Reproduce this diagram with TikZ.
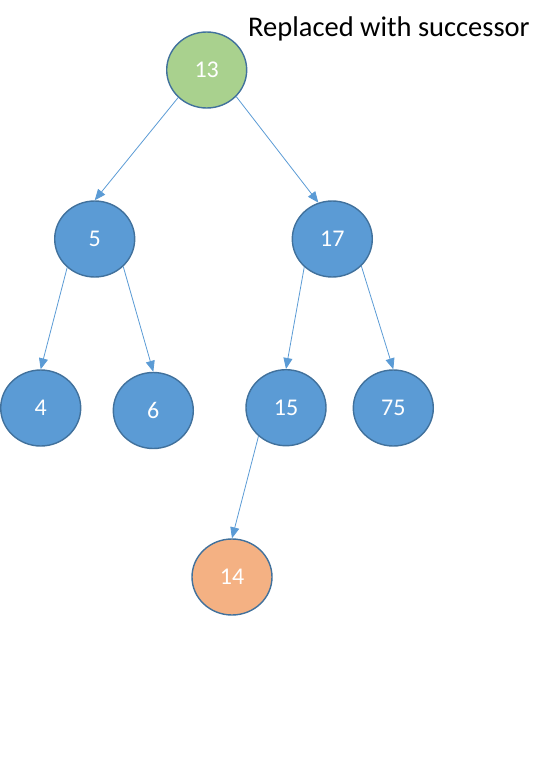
\documentclass[tikz,border=0pt]{standalone}
\usepackage{fontspec}
\setmainfont{Carlito}
\usetikzlibrary{shapes.geometric}
\usetikzlibrary{arrows.meta}

\begin{document}
\begin{tikzpicture}[x=1pt,y=-1pt,
  key/.style={ellipse, draw=keyline, line width=1.4pt, fill=keyblue,
    minimum width=80pt, minimum height=76pt, inner sep=0pt,
    text=white, font=\fontsize{24}{28}\selectfont},
  link/.style={draw=keyblue, line width=0.8pt,
    -{Triangle[length=11pt,width=9pt]}}]
  \definecolor{keyblue}{HTML}{5B9BD5}
  \definecolor{keyline}{HTML}{41719C}
  \definecolor{keygreen}{HTML}{A9D18E}
  \definecolor{keyorange}{HTML}{F4B183}
  \useasboundingbox (0,0) rectangle (558,784);
  \node[key, fill=keygreen] (k13) at (206.7,70) {13};
  \node[key] (k5) at (94.7,239) {5};
  \node[key] (k17) at (332.3,239) {17};
  \node[key] (k4) at (40.7,408) {4};
  \node[key] (k6) at (153.3,410.5) {6};
  \node[key] (k15) at (286,407.7) {15};
  \node[key] (k75) at (393.3,408) {75};
  \node[key, fill=keyorange] (k14) at (232,577) {14};
  \node[anchor=base west, inner sep=0pt, font=\fontsize{28.5}{32}\selectfont]
    (note) at (248,36.5) {Replaced with successor};
  \draw[link] (k13.224) -- (k5.north);
  \draw[link] (k13.318) -- (k17.111);
  \draw[link] (k5.226) -- (k4.north);
  \draw[link] (k5.316) -- (k6.north);
  \draw[link] (k17.225) -- (k15.north);
  \draw[link] (k17.317) -- (k75.north);
  \draw[link] (k15.226) -- (k14.north);
\end{tikzpicture}
\end{document}
